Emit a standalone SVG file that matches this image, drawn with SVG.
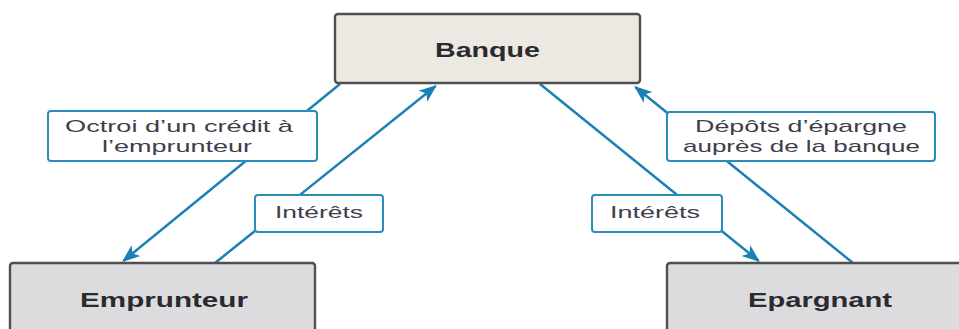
<svg xmlns="http://www.w3.org/2000/svg" width="959" height="329" viewBox="0 0 959 329">
  <style>
    .node { stroke: #4f4f4f; stroke-width: 2.4; }
    .bank { fill: #ebe9e1; }
    .actor { fill: #dcdcde; }
    .title { font-family: "Liberation Sans", Arial, sans-serif; font-weight: bold; font-size: 20px; fill: #2a2a30; text-anchor: middle; }
    .flow { stroke: #1b80b4; stroke-width: 2.5; fill: none; }
    .tag { fill: #ffffff; stroke: #2b8cbc; stroke-width: 2; }
    .tagtext { font-family: "Liberation Sans", Arial, sans-serif; font-size: 17px; fill: #3e3e4c; text-anchor: middle; }
  </style>
  <defs>
    <marker id="arrow" viewBox="0 -8 18 16" refX="16" refY="0" markerWidth="18" markerHeight="16" markerUnits="userSpaceOnUse" orient="auto">
      <path d="M18,0 L0,-7 L4.5,0 L0,7 Z" fill="#1b80b4"/>
    </marker>
  </defs>

  <rect width="959" height="329" fill="#ffffff"/>

  <!-- Flows between the bank and the two parties -->
  <g id="connectors">
    <line class="flow" x1="340" y1="84" x2="123.6" y2="260.7" marker-end="url(#arrow)"/>
    <line class="flow" x1="215" y1="263" x2="435.4" y2="86.3" marker-end="url(#arrow)"/>
    <line class="flow" x1="540" y1="84" x2="758.4" y2="260.7" marker-end="url(#arrow)"/>
    <line class="flow" x1="853" y1="263" x2="635.6" y2="87.3" marker-end="url(#arrow)"/>

    <g id="label-credit">
      <rect class="tag" x="48" y="111" width="269" height="50" rx="3"/>
      <text class="tagtext" x="179" y="132" textLength="228" lengthAdjust="spacingAndGlyphs">Octroi d’un crédit à</text>
      <text class="tagtext" x="177" y="152" textLength="150" lengthAdjust="spacingAndGlyphs">l’emprunteur</text>
    </g>
    <g id="label-interets-left">
      <rect class="tag" x="255" y="195" width="128" height="37" rx="3"/>
      <text class="tagtext" x="319" y="218" textLength="88" lengthAdjust="spacingAndGlyphs">Intérêts</text>
    </g>
    <g id="label-interets-right">
      <rect class="tag" x="592" y="195" width="130" height="37" rx="3"/>
      <text class="tagtext" x="655" y="218" textLength="90" lengthAdjust="spacingAndGlyphs">Intérêts</text>
    </g>
    <g id="label-depots">
      <rect class="tag" x="667" y="112" width="268" height="49" rx="3"/>
      <text class="tagtext" x="801" y="132" textLength="212" lengthAdjust="spacingAndGlyphs">Dépôts d’épargne</text>
      <text class="tagtext" x="801.5" y="152" textLength="237" lengthAdjust="spacingAndGlyphs">auprès de la banque</text>
    </g>
  </g>

  <g id="banque">
    <rect class="node bank" x="335" y="14" width="305" height="69" rx="3"/>
    <text class="title" x="487.5" y="57" textLength="105" lengthAdjust="spacingAndGlyphs">Banque</text>
  </g>

  <g id="emprunteur">
    <rect class="node actor" x="10" y="263" width="305" height="80" rx="3"/>
    <text class="title" x="164" y="307" textLength="168" lengthAdjust="spacingAndGlyphs">Emprunteur</text>
  </g>

  <g id="epargnant">
    <rect class="node actor" x="667" y="263" width="305" height="80" rx="3"/>
    <text class="title" x="820" y="307" textLength="144" lengthAdjust="spacingAndGlyphs">Epargnant</text>
  </g>
</svg>
